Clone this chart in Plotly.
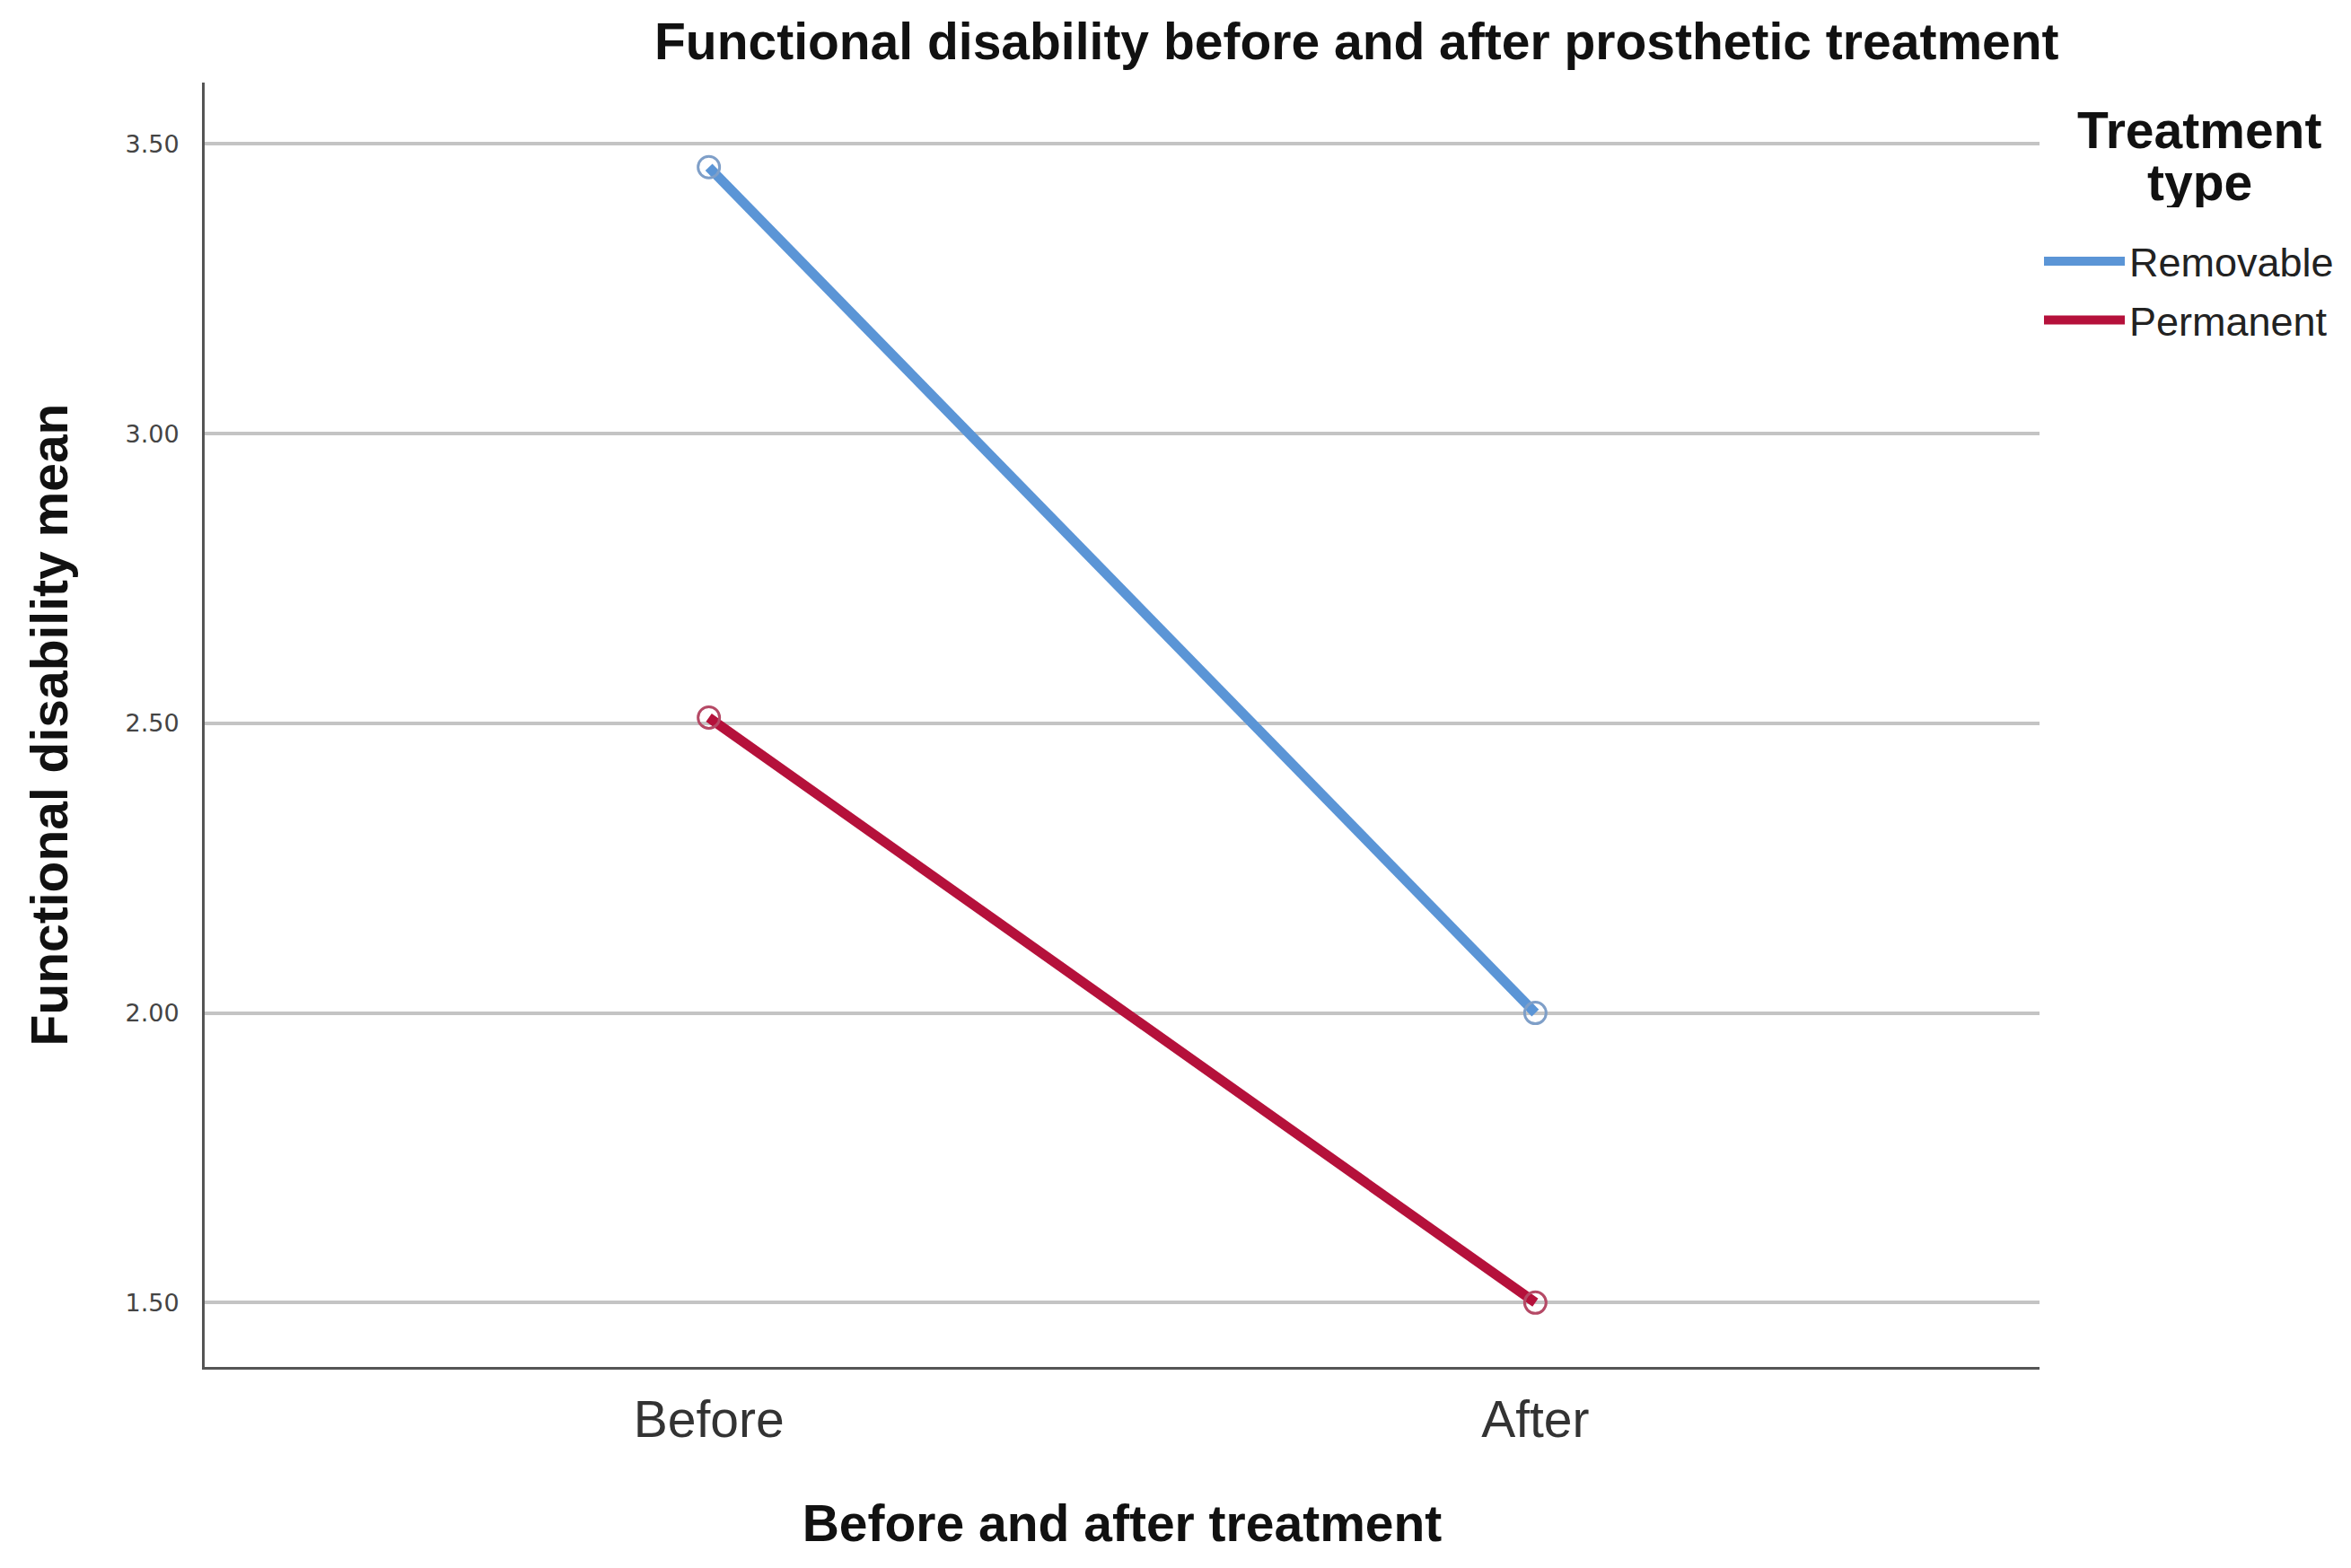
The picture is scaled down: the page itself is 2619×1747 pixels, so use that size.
import plotly.graph_objects as go

# Data
categories = ["Before", "After"]
series_names = ["Removable", "Permanent"]
removable = [3.46, 2.00]
permanent = [2.51, 1.50]
y_ticks = [1.50, 2.00, 2.50, 3.00, 3.50]
y_tick_labels = ["1.50", "2.00", "2.50", "3.00", "3.50"]
legend_title_lines = ["Treatment", "type"]

colors = {"Removable": "#5b95d6", "Permanent": "#b5113b"}
marker_edge = {"Removable": "#7f9fc8", "Permanent": "#b54a66"}

fig = go.Figure()
xpos = list(range(len(categories)))
for name, vals in zip(series_names, [removable, permanent]):
    fig.add_trace(go.Scatter(
        x=xpos, y=vals, mode="lines", name=name,
        line=dict(color=colors[name], width=11),
        legendgroup=name, showlegend=True, hoverinfo="skip",
    ))
    fig.add_trace(go.Scatter(
        x=xpos, y=vals, mode="markers", name=name,
        marker=dict(symbol="circle-open", size=24, color=marker_edge[name],
                    line=dict(width=3, color=marker_edge[name])),
        legendgroup=name, showlegend=False,
    ))

font_main = "Liberation Sans, Arial, sans-serif"
L, R, T, B = 220, 355, 84, 232
PW, PH = 2619 - L - R, 1747 - T - B

annots = []
for line_text, ycen in zip(legend_title_lines, [137, 195]):
    annots.append(dict(
        text="<b>" + line_text + "</b>", xref="paper", yref="paper",
        x=(2442 - L) / PW, xanchor="center",
        y=1 - (ycen - T) / PH, yanchor="middle",
        height=56, valign="middle",
        showarrow=False, font=dict(family=font_main, size=57, color="#111"),
    ))

fig.update_layout(
    width=2619, height=1747,
    margin=dict(l=L, r=R, t=T, b=B, autoexpand=False),
    paper_bgcolor="white", plot_bgcolor="white",
    title=dict(
        text="<b>Functional disability before and after prosthetic treatment</b>",
        x=0.574, xanchor="center", y=1 - 38 / 1747, yanchor="middle",
        yref="container", font=dict(family=font_main, size=57, color="#111"),
    ),
    legend=dict(
        x=1.0, xanchor="left", y=0.886, yanchor="top",
        font=dict(family=font_main, size=45, color="#222"),
        itemwidth=90, tracegroupgap=4, bgcolor="rgba(0,0,0,0)",
    ),
    showlegend=True,
    annotations=annots,
)

fig.update_xaxes(
    range=[-0.61, 1.61],
    tickmode="array", tickvals=xpos, ticktext=categories,
    tickfont=dict(family=font_main, size=57, color="#333"),
    ticks="", ticklabelstandoff=7,
    showgrid=False, zeroline=False,
    showline=True, linecolor="#555", linewidth=3,
    title=dict(text="<b>Before and after treatment</b>", standoff=65,
               font=dict(family=font_main, size=57, color="#111")),
)

fig.update_yaxes(
    range=[1.389, 3.606],
    tickmode="array", tickvals=y_ticks, ticktext=y_tick_labels,
    tickfont=dict(family="DejaVu Sans", size=27, color="#444"),
    ticks="", ticklabelstandoff=20,
    showgrid=True, gridcolor="#c4c4c4", gridwidth=4,
    zeroline=False,
    showline=True, linecolor="#555", linewidth=3,
    title=dict(text="<b>Functional disability mean</b>", standoff=46,
               font=dict(family=font_main, size=57, color="#111")),
)

fig.write_html("out.html")
